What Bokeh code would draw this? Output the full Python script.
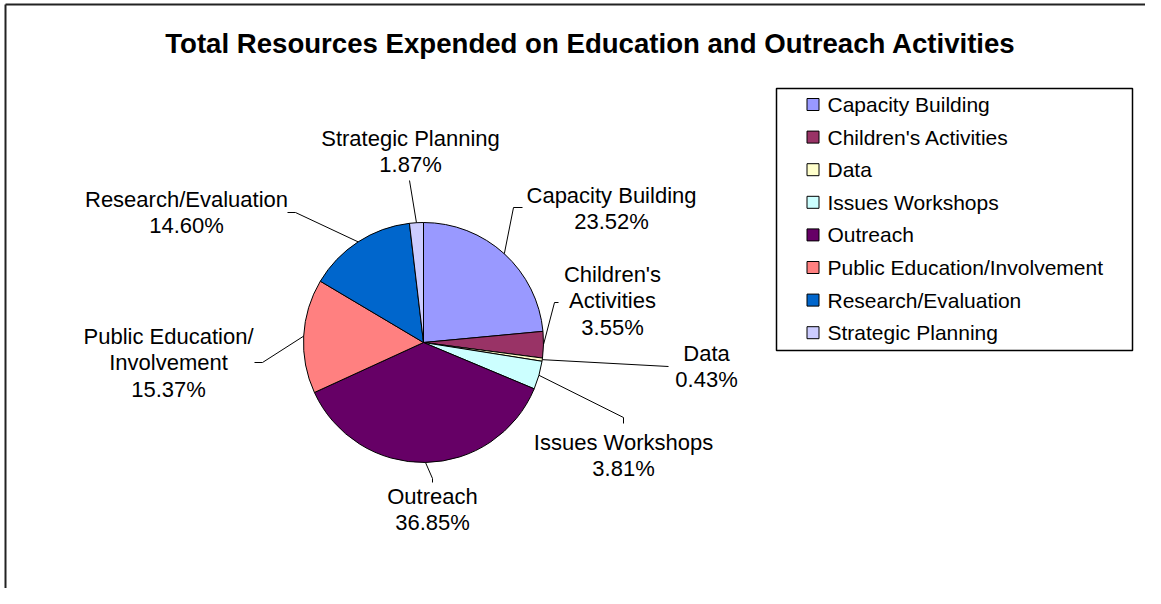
import math
from bokeh.plotting import figure
from bokeh.models import Range1d, ColumnDataSource
from bokeh.core.properties import value
from bokeh.embed import file_html
from bokeh.resources import INLINE

# ---- data ----
categories = ["Capacity Building", "Children's Activities", "Data", "Issues Workshops",
              "Outreach", "Public Education/Involvement", "Research/Evaluation", "Strategic Planning"]
percents = [23.52, 3.55, 0.43, 3.81, 36.85, 15.37, 14.60, 1.87]
colors = ["#9999FF", "#993366", "#FFFFCC", "#CCFFFF", "#660066", "#FF8080", "#0066CC", "#CCCCFF"]
label_names = ["Capacity Building", "Children's\nActivities", "Data", "Issues Workshops",
               "Outreach", "Public Education/\nInvolvement", "Research/Evaluation", "Strategic Planning"]
title = "Total Resources Expended on Education and Outreach Activities"

# ---- layout (picture pixel coordinates; y is negated) ----
W, H = 1145, 588
cx, cy, R = 423, 342, 120
label_pos = [(611, 208), (612, 300), (706, 366), (623, 455),
             (432, 509), (168, 362), (186, 212), (410, 151)]
leader_mid = [(513, 207), (554, 302), None, (623, 417), (432, 478), (262, 362), (295, 212), None]
leader_end = [(522, 207), (558, 302), (668, 366), (623, 423), (432, 482), (254, 362), (287, 212), (409, 180)]
LINE_STEP = 26.5
FONT = "Liberation Sans"

p = figure(width=W, height=H, output_backend="svg", toolbar_location=None,
           x_range=Range1d(0, W), y_range=Range1d(-H, 0),
           min_border=0, outline_line_color=None)
p.axis.visible = False
p.grid.visible = False
p.background_fill_color = "white"
p.border_fill_color = "white"

# outer chart border (top & left visible)
p.segment(x0=[5, 5], y0=[-4, -4], x1=[5, W], y1=[-H, -4],
          line_color="#222222", line_width=2)

# title
p.text(x=[590], y=[-43], text=[title], text_font=value(FONT), text_font_size="27.6px",
       text_font_style="bold", text_align="center", text_baseline="middle", text_color="black")

# pie wedges
total = sum(percents)
starts, ends, mids = [], [], []
cum = 0.0
for v in percents:
    a0 = math.pi / 2 - 2 * math.pi * cum / total
    cum += v
    a1 = math.pi / 2 - 2 * math.pi * cum / total
    starts.append(a0)
    ends.append(a1)
    mids.append((a0 + a1) / 2)
src = ColumnDataSource(dict(start=starts, end=ends, color=colors, cat=categories))
p.wedge(x=cx, y=-cy, radius=R, start_angle="start", end_angle="end", direction="clock",
        fill_color="color", line_color="black", line_width=1, source=src)

# leader lines
xs, ys = [], []
for i, m in enumerate(mids):
    sx = cx + R * math.cos(m)
    sy = -cy + R * math.sin(m)
    px, py = [sx], [sy]
    if leader_mid[i] is not None:
        px.append(leader_mid[i][0]); py.append(-leader_mid[i][1])
    px.append(leader_end[i][0]); py.append(-leader_end[i][1])
    xs.append(px); ys.append(py)
p.multi_line(xs=xs, ys=ys, line_color="black", line_width=1)

# data labels (one text per line for exact line spacing)
tx, ty, tt = [], [], []
for (lx, ly), n, v in zip(label_pos, label_names, percents):
    lines = n.split("\n") + [f"{v:.2f}%"]
    k = len(lines)
    for j, line in enumerate(lines):
        tx.append(lx)
        ty.append(-(ly + (j - (k - 1) / 2) * LINE_STEP))
        tt.append(line)
p.text(x=tx, y=ty, text=tt, text_font=value(FONT), text_font_size="22px",
       text_align="center", text_baseline="middle", text_color="black")

# legend (manual box)
lx0, lx1, ly0, ly1 = 776, 1132, 88, 350
p.quad(left=[lx0], right=[lx1], top=[-ly0], bottom=[-ly1], fill_color="white",
       line_color="black", line_width=1.5)
row_y = [104 + 32.6 * i for i in range(len(categories))]
p.rect(x=[812.5] * len(categories), y=[-y for y in row_y], width=12, height=12,
       fill_color=colors, line_color="black", line_width=1)
p.text(x=[827] * len(categories), y=[-y for y in row_y], text=categories,
       text_font=value(FONT), text_font_size="21px", text_align="left",
       text_baseline="middle", text_color="black")

open("out.html", "w").write(file_html(p, INLINE))
